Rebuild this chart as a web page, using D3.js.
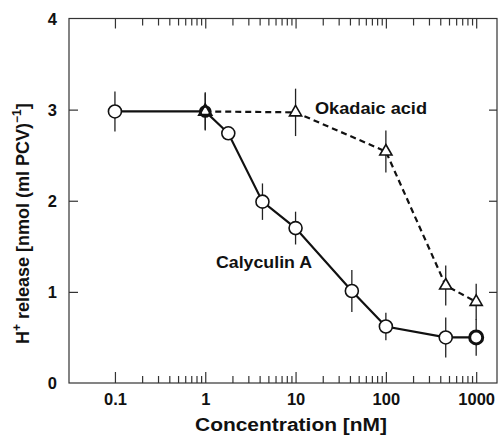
<!DOCTYPE html>
<html>
<head>
<meta charset="utf-8">
<script src="https://cdn.jsdelivr.net/npm/d3@7/dist/d3.min.js"></script>
<style>
  html, body { margin: 0; padding: 0; background: #fff; }
  svg { display: block; }
  text { font-family: "Liberation Sans", Arial, Helvetica, sans-serif; font-weight: bold; fill: #111; }
</style>
</head>
<body>
<svg id="chart" width="499" height="435"></svg>
<script>
// Calyculin A: concentration (nM), H+ release, error
const calyConc = [0.1, 1, 1.8, 4.3, 10, 42, 100, 460, 1000];
const calyValue = [2.98, 2.98, 2.74, 1.99, 1.70, 1.01, 0.62, 0.50, 0.50];
const calyErr = [0.22, 0.20, 0, 0.20, 0.18, 0.23, 0.15, 0.22, 0.20];

// Okadaic acid
const okaConc = [1, 10, 100, 460, 1000];
const okaValue = [2.98, 2.97, 2.54, 1.07, 0.89];
const okaErr = [0.21, 0.26, 0.23, 0.22, 0.20];

// Axis ticks
const xMajorTicks = [0.1, 1, 10, 100, 1000];
const xTickLabels = ["0.1", "1", "10", "100", "1000"];
const xMinorMultipliers = [2, 3, 4, 5, 6, 7, 8, 9];
const yTicks = [0, 1, 2, 3, 4];

const svg = d3.select("#chart");
const plotLeft = 69, plotRight = 497, plotTop = 18.5, plotBottom = 383;

const x = d3.scaleLog().domain([0.031, 1700]).range([plotLeft, plotRight]);
const y = d3.scaleLinear().domain([0, 4]).range([plotBottom, plotTop]);

const xMinorTicks = [];
xMajorTicks.slice(0, -1).forEach(d => xMinorMultipliers.forEach(m => xMinorTicks.push(d * m)));

const frameColor = "#333";

// frame
svg.append("rect")
  .attr("x", plotLeft).attr("y", plotTop)
  .attr("width", plotRight - plotLeft).attr("height", plotBottom - plotTop)
  .attr("fill", "none").attr("stroke", frameColor).attr("stroke-width", 1.2);

function styleAxis(g) {
  g.select(".domain").remove();
  g.selectAll(".tick line").attr("stroke", frameColor).attr("stroke-width", 1.2);
}

// bottom x axis (inward ticks)
svg.append("g").attr("transform", `translate(0,${plotBottom})`)
  .call(d3.axisBottom(x).tickValues(xMinorTicks).tickSize(-7).tickFormat(""))
  .call(styleAxis);
const xb = svg.append("g").attr("transform", `translate(0,${plotBottom})`)
  .call(d3.axisBottom(x).tickValues(xMajorTicks).tickSize(-11)
    .tickFormat((d, i) => xTickLabels[i]).tickPadding(0))
  .call(styleAxis);
xb.selectAll(".tick text").attr("y", 22).attr("dy", 0)
  .attr("font-size", 16.5).attr("fill", "#111")
  .attr("font-family", "'Liberation Sans', Arial, sans-serif").attr("font-weight", "bold");

// top x axis (inward ticks)
svg.append("g").attr("transform", `translate(0,${plotTop})`)
  .call(d3.axisTop(x).tickValues(xMinorTicks).tickSize(-7).tickFormat(""))
  .call(styleAxis);
svg.append("g").attr("transform", `translate(0,${plotTop})`)
  .call(d3.axisTop(x).tickValues(xMajorTicks).tickSize(-10).tickFormat(""))
  .call(styleAxis);

// left y axis
const yl = svg.append("g").attr("transform", `translate(${plotLeft},0)`)
  .call(d3.axisLeft(y).tickValues(yTicks).tickSize(-9).tickFormat(d3.format("d")).tickPadding(0))
  .call(styleAxis);
yl.selectAll(".tick line").filter(d => d === 0 || d === 4).remove();
yl.selectAll(".tick text").attr("x", -12).attr("dy", "0.36em")
  .attr("font-size", 16.5).attr("fill", "#111")
  .attr("font-family", "'Liberation Sans', Arial, sans-serif").attr("font-weight", "bold");

// right y axis
svg.append("g").attr("transform", `translate(${plotRight},0)`)
  .call(d3.axisRight(y).tickValues(yTicks.slice(1, -1)).tickSize(-8).tickFormat(""))
  .call(styleAxis);

// error bars
function errorBars(conc, value, err) {
  svg.append("g").selectAll("line")
    .data(conc.map((c, i) => ({ c, v: value[i], e: err[i] })).filter(d => d.e > 0))
    .join("line")
    .attr("x1", d => x(d.c)).attr("x2", d => x(d.c))
    .attr("y1", d => y(d.v + d.e)).attr("y2", d => y(d.v - d.e))
    .attr("stroke", "#222").attr("stroke-width", 1.3);
}
errorBars(okaConc, okaValue, okaErr);
errorBars(calyConc, calyValue, calyErr);

// connecting lines
const line = d3.line().x(d => x(d[0])).y(d => y(d[1]));
svg.append("path")
  .datum(okaConc.map((c, i) => [c, okaValue[i]]))
  .attr("d", line).attr("fill", "none")
  .attr("stroke", "#111").attr("stroke-width", 2.2)
  .attr("stroke-dasharray", "6,4");
svg.append("path")
  .datum(calyConc.map((c, i) => [c, calyValue[i]]))
  .attr("d", line).attr("fill", "none")
  .attr("stroke", "#111").attr("stroke-width", 2.2);

// circles for calyculin A (the one at 1 nM sits under the okadaic triangle)
svg.append("g").selectAll("circle")
  .data(calyConc.map((c, i) => ({ c, v: calyValue[i], shared: c === 1, last: i === calyConc.length - 1 })))
  .join("circle")
  .attr("cx", d => x(d.c)).attr("cy", d => y(d.v))
  .attr("r", d => d.shared ? 5 : 6.5)
  .attr("fill", "#fff").attr("stroke", "#111")
  .attr("stroke-width", d => d.last ? 3 : d.shared ? 2.6 : 1.6);

// triangles for okadaic acid
const tri = d3.symbol().type(d3.symbolTriangle).size(64);
svg.append("g").selectAll("path")
  .data(okaConc.map((c, i) => ({ c, v: okaValue[i] })))
  .join("path")
  .attr("d", tri)
  .attr("transform", d => `translate(${x(d.c)},${y(d.v)})`)
  .attr("fill", d => d.c === 1 ? "none" : "#fff")
  .attr("stroke", "#111").attr("stroke-width", d => d.c === 1 ? 2.2 : 1.6);

// series labels
svg.append("text").attr("x", 315).attr("y", 114)
  .attr("font-size", 16).attr("textLength", 112).attr("lengthAdjust", "spacingAndGlyphs")
  .text("Okadaic acid");
svg.append("text").attr("x", 216).attr("y", 268)
  .attr("font-size", 16).attr("textLength", 96).attr("lengthAdjust", "spacingAndGlyphs")
  .text("Calyculin A");

// axis titles
svg.append("text").attr("x", 195).attr("y", 431)
  .attr("font-size", 17.5).attr("textLength", 192).attr("lengthAdjust", "spacingAndGlyphs")
  .text("Concentration [nM]");

const yt = svg.append("text")
  .attr("transform", "translate(29,344) rotate(-90)")
  .attr("font-size", 18).attr("text-anchor", "start");
yt.append("tspan").text("H");
yt.append("tspan").attr("font-size", 12).attr("dy", -8).text("+");
yt.append("tspan").attr("dy", 8).text(" release [nmol (ml PCV)");
yt.append("tspan").attr("font-size", 12).attr("dy", -8).text("−1");
yt.append("tspan").attr("dy", 8).text("]");
</script>
</body>
</html>
